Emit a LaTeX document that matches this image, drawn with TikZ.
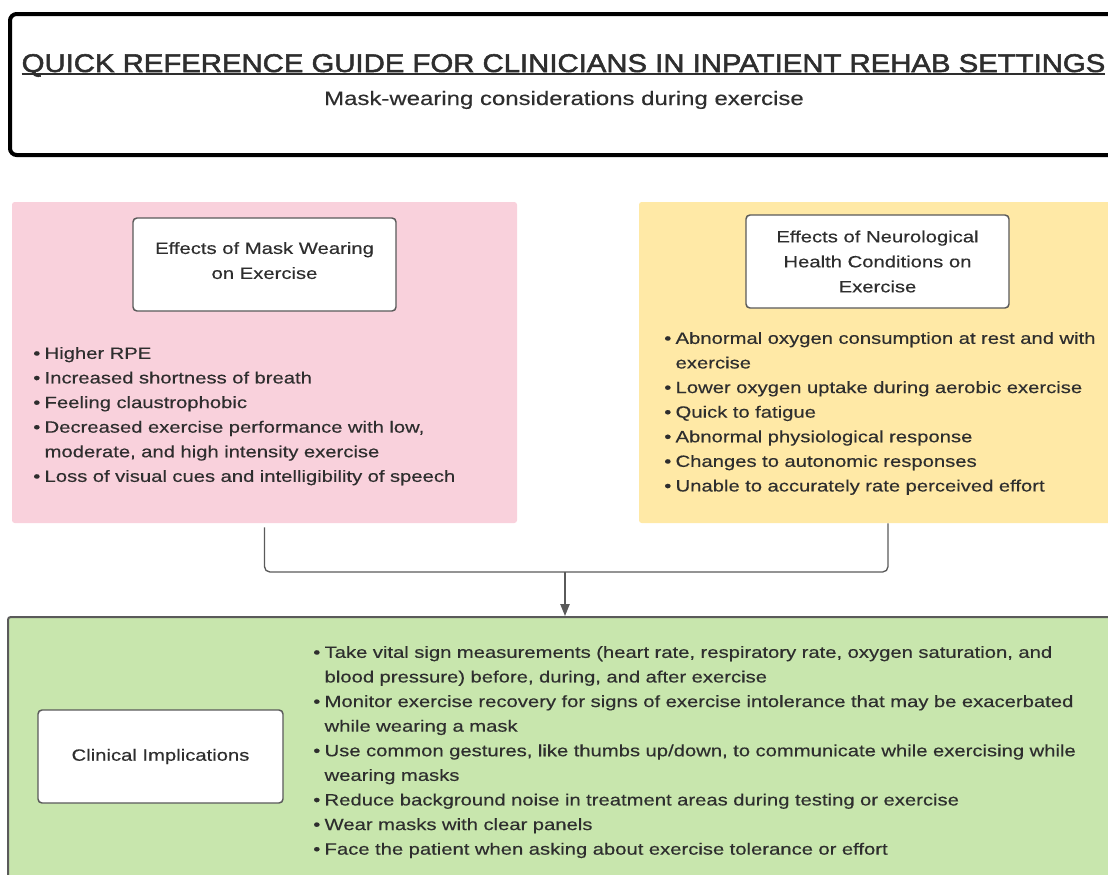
\documentclass[tikz,border=0pt]{standalone}
\usepackage{fontspec}
\setmainfont{Liberation Sans}[FakeStretch=1.24,FakeBold=0.35]
\newfontfamily\titlefont{Liberation Sans}[FakeStretch=1.145,FakeBold=2]
\usetikzlibrary{arrows.meta}

\definecolor{inkgray}{HTML}{2E2E2E}
\definecolor{linegray}{HTML}{5A5A5A}
\definecolor{pinkbg}{HTML}{F9D1DC}
\definecolor{yellowbg}{HTML}{FFE9A6}
\definecolor{greenbg}{HTML}{C8E6AD}

\newsavebox{\ulbox}
\newcommand{\thickul}[1]{\sbox{\ulbox}{#1}\rlap{\rule[-2.4pt]{\wd\ulbox}{1.7pt}}\usebox{\ulbox}}
\newcommand{\bul}[1]{\par\hangindent=8.5pt\hangafter=1\noindent\makebox[8.5pt][l]{\textbullet}#1}

\tikzset{
  panel/.style={rectangle, rounded corners=2pt, inner sep=0pt},
  headbox/.style={rectangle, draw=linegray, line width=1.1pt, rounded corners=3pt,
    fill=white, align=center, text=inkgray, inner sep=0pt,
    font=\fontsize{12.25pt}{18.75pt}\selectfont},
  bullets/.style={text=inkgray, align=left, inner sep=0pt, anchor=north west,
    font=\fontsize{12.25pt}{18.45pt}\selectfont},
  link/.style={draw=linegray, line width=1pt, rounded corners=4pt}
}

\begin{document}
\begin{tikzpicture}[x=0.75pt,y=-0.75pt]
\useasboundingbox (0,0) rectangle (1108,875);

\node[panel, draw=black, line width=3pt, rounded corners=5pt, fill=white,
  minimum width=832.5pt, minimum height=105.75pt] (guide) at (565,84.5) {};
\node[text=inkgray, font=\titlefont\fontsize{19.2pt}{24pt}\selectfont, anchor=base] (guidetitle) at (563.5,72)
  {\thickul{QUICK REFERENCE GUIDE FOR CLINICIANS IN INPATIENT REHAB SETTINGS}};
\node[text=inkgray, font=\fontsize{14.5pt}{18pt}\selectfont, anchor=base] (guidesub) at (564,105)
  {Mask-wearing considerations during exercise};

\node[panel, fill=pinkbg, minimum width=378.75pt, minimum height=240.75pt] (maskpanel) at (264.5,362.5) {};
\node[headbox, minimum width=197.25pt, minimum height=69.75pt, text depth=6pt] (masktitle) at (264.5,264.5)
  {Effects of Mask Wearing\\on Exercise};
\node[bullets, text width=360pt] (masklist) at (33,334) {%
  \bul{Higher RPE}
  \bul{Increased shortness of breath}
  \bul{Feeling claustrophobic}
  \bul{Decreased exercise performance with low,\newline moderate, and high intensity exercise}
  \bul{Loss of visual cues and intelligibility of speech}};

\node[panel, fill=yellowbg, minimum width=373.5pt, minimum height=240.75pt] (neuropanel) at (888,362.5) {};
\node[headbox, minimum width=197.25pt, minimum height=69.75pt] (neurotitle) at (877.5,261.5)
  {Effects of Neurological\\Health Conditions on\\Exercise};
\node[bullets, text width=360pt] (neurolist) at (664,319) {%
  \bul{Abnormal oxygen consumption at rest and with\newline exercise}
  \bul{Lower oxygen uptake during aerobic exercise}
  \bul{Quick to fatigue}
  \bul{Abnormal physiological response}
  \bul{Changes to autonomic responses}
  \bul{Unable to accurately rate perceived effort}};

\node[panel, draw=linegray, line width=1.5pt, fill=greenbg, minimum width=835.5pt,
  minimum height=217.5pt] (clinicpanel) at (565,762) {};
\node[headbox, minimum width=183.75pt, minimum height=69.75pt] (clinictitle) at (160.5,756.5)
  {Clinical Implications};
\node[bullets, text width=600pt] (cliniclist) at (313,633) {%
  \bul{Take vital sign measurements (heart rate, respiratory rate, oxygen saturation, and\newline blood pressure) before, during, and after exercise}
  \bul{Monitor exercise recovery for signs of exercise intolerance that may be exacerbated\newline while wearing a mask}
  \bul{Use common gestures, like thumbs up/down, to communicate while exercising while\newline wearing masks}
  \bul{Reduce background noise in treatment areas during testing or exercise}
  \bul{Wear masks with clear panels}
  \bul{Face the patient when asking about exercise tolerance or effort}};

\coordinate (join) at (565,572);
\draw[link, shorten <=3pt] (maskpanel.south) |- (join) -| (neuropanel.south);
\draw[draw=linegray, line width=1pt, -{Triangle[length=9pt,width=7pt]}] (join) -- (clinicpanel.north);
\end{tikzpicture}
\end{document}
